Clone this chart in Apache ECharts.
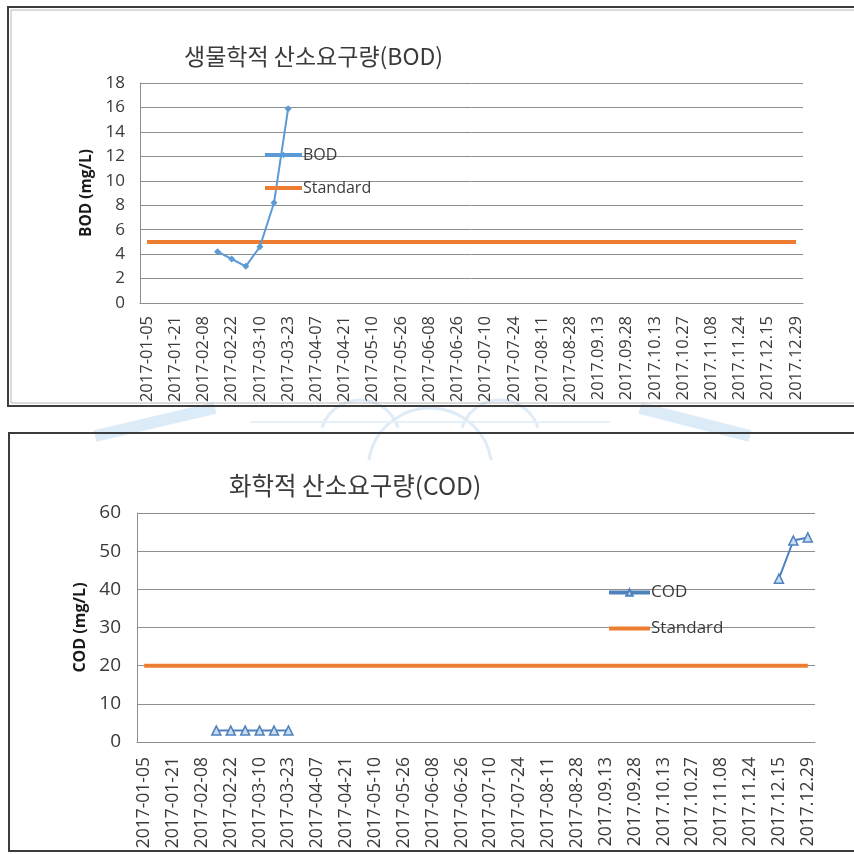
<!DOCTYPE html>
<html>
<head>
<meta charset="utf-8">
<script src="https://cdn.jsdelivr.net/npm/echarts@6/dist/echarts.min.js"></script>
<style>
  html, body { margin: 0; padding: 0; background: #ffffff; }
  #chart { width: 854px; height: 854px; }
</style>
</head>
<body>
<div id="chart"></div>
<script>
// Labelled sampling dates (every second weekly sampling date is labelled on the axis)
const tickLabels = [
  '2017-01-05', '2017-01-21', '2017-02-08', '2017-02-22', '2017-03-10', '2017-03-23',
  '2017-04-07', '2017-04-21', '2017-05-10', '2017-05-26', '2017-06-08', '2017-06-26',
  '2017-07-10', '2017-07-24', '2017-08-11', '2017-08-28', '2017.09.13', '2017.09.28',
  '2017.10.13', '2017.10.27', '2017.11.08', '2017.11.24', '2017.12.15', '2017.12.29'
];

// BOD (mg/L) per sampling date
const bodValues = [
  null, null, null, null, null, 4.2, 3.6, 3.0, 4.6, 8.2, 15.9, null,
  null, null, null, null, null, null, null, null, null, null, null, null,
  null, null, null, null, null, null, null, null, null, null, null, null,
  null, null, null, null, null, null, null, null, null, null, null
];
const bodStandard = [
  5, 5, 5, 5, 5, 5, 5, 5, 5, 5, 5, 5, 5, 5, 5, 5, 5, 5, 5, 5, 5, 5, 5, 5,
  5, 5, 5, 5, 5, 5, 5, 5, 5, 5, 5, 5, 5, 5, 5, 5, 5, 5, 5, 5, 5, 5, 5
];

// COD (mg/L) per sampling date
const codValues = [
  null, null, null, null, null, 3.0, 3.0, 3.0, 3.0, 3.0, 3.0, null,
  null, null, null, null, null, null, null, null, null, null, null, null,
  null, null, null, null, null, null, null, null, null, null, null, null,
  null, null, null, null, null, null, null, null, 42.8, 52.8, 53.6
];
const codStandard = [
  20, 20, 20, 20, 20, 20, 20, 20, 20, 20, 20, 20, 20, 20, 20, 20, 20, 20, 20, 20, 20, 20, 20, 20,
  20, 20, 20, 20, 20, 20, 20, 20, 20, 20, 20, 20, 20, 20, 20, 20, 20, 20, 20, 20, 20, 20, 20
];

// Weekly categories: labelled dates with an unlabelled week in between
const categories = [];
tickLabels.forEach(function (d, i) {
  categories.push(d);
  if (i < tickLabels.length - 1) categories.push('');
});

const LATIN = "'Open Sans', 'DejaVu Sans', sans-serif";
const KOREAN = "'Noto Sans CJK KR', 'Noto Sans', sans-serif";
const GRID_GRAY = '#8e8e8e';
const TEXT = '#3a3a3a';
const BLUE = '#5B9BD5';
const STEEL = '#4F81BD';
const ORANGE = '#ED7D31';

// legend entry for a line drawn without markers
const plainLine = { name: 'Standard', itemStyle: { color: 'rgba(0,0,0,0)', borderWidth: 0, opacity: 0 } };

function xAxisFor(gridIndex, fontSize, margin) {
  return {
    type: 'category', gridIndex: gridIndex, data: categories, boundaryGap: true,
    axisLine: { show: true, lineStyle: { color: GRID_GRAY, width: 1 } },
    axisTick: { show: false },
    axisLabel: {
      interval: 0, rotate: 90, margin: margin, color: TEXT,
      fontFamily: LATIN, fontSize: fontSize
    },
    splitLine: { show: false }
  };
}

function yAxisFor(gridIndex, max, interval, name, nameSize, fontSize, nameGap, margin) {
  return {
    type: 'value', gridIndex: gridIndex, min: 0, max: max, interval: interval,
    name: name, nameLocation: 'middle', nameGap: nameGap,
    nameTextStyle: { fontFamily: LATIN, fontWeight: 'bold', fontSize: nameSize, color: '#1a1a1a' },
    axisLine: { show: true, lineStyle: { color: GRID_GRAY, width: 1 } },
    axisTick: { show: false },
    axisLabel: { color: TEXT, fontFamily: LATIN, fontSize: fontSize, margin: margin },
    splitLine: { show: true, lineStyle: { color: GRID_GRAY, width: 1 } }
  };
}

const chart = echarts.init(document.getElementById('chart'), null, { renderer: 'canvas' });

chart.setOption({
  backgroundColor: '#ffffff',
  animation: false,
  title: [
    {
      text: '생물학적 산소요구량(BOD)', left: 184, top: 45, padding: 0,
      textStyle: { fontFamily: KOREAN, fontWeight: 'normal', fontSize: 23, color: TEXT }
    },
    {
      text: '화학적 산소요구량(COD)', left: 229, top: 473, padding: 0,
      textStyle: { fontFamily: KOREAN, fontWeight: 'normal', fontSize: 24.5, color: TEXT }
    }
  ],
  legend: [
    {
      data: ['BOD', plainLine], orient: 'vertical', left: 263, top: 147, padding: 0,
      itemWidth: 37, itemHeight: 8, itemGap: 17,
      lineStyle: { width: 4 },
      textStyle: { fontFamily: LATIN, fontSize: 16, color: TEXT, padding: [0, 0, 0, -4] }
    },
    {
      data: ['COD', plainLine], orient: 'vertical', left: 607, top: 584, padding: 0,
      itemWidth: 41, itemHeight: 8, itemGap: 19,
      lineStyle: { width: 4 },
      textStyle: { fontFamily: LATIN, fontSize: 17, color: TEXT, padding: [0, 0, 0, -4] }
    }
  ],
  grid: [
    { left: 140, top: 83, width: 663, height: 220 },
    { left: 137, top: 513, width: 678, height: 229 }
  ],
  xAxis: [xAxisFor(0, 16.5, 13), xAxisFor(1, 17.5, 15)],
  yAxis: [
    yAxisFor(0, 18, 2, 'BOD (mg/L)', 15.5, 17, 44, 15),
    yAxisFor(1, 60, 10, 'COD (mg/L)', 16, 19, 46, 16)
  ],
  series: [
    {
      name: 'Standard', type: 'line', xAxisIndex: 0, yAxisIndex: 0, data: bodStandard,
      symbol: 'none', lineStyle: { color: ORANGE, width: 4 }, itemStyle: { color: ORANGE }, z: 2
    },
    {
      name: 'BOD', type: 'line', xAxisIndex: 0, yAxisIndex: 0, data: bodValues,
      connectNulls: false, symbol: 'diamond', symbolSize: 7,
      lineStyle: { color: BLUE, width: 2 }, itemStyle: { color: BLUE }, z: 3
    },
    {
      name: 'Standard', type: 'line', xAxisIndex: 1, yAxisIndex: 1, data: codStandard,
      symbol: 'none', lineStyle: { color: ORANGE, width: 4 }, itemStyle: { color: ORANGE }, z: 2
    },
    {
      name: 'COD', type: 'line', xAxisIndex: 1, yAxisIndex: 1, data: codValues,
      connectNulls: false, symbol: 'triangle', symbolSize: 9,
      lineStyle: { color: STEEL, width: 2 },
      itemStyle: { color: '#c9dcf0', borderColor: STEEL, borderWidth: 1.5 }, z: 3
    }
  ],
  graphic: [
    // faint emblem showing between the two panels
    { type: 'group', silent: true, z: -10, children: [
      { type: 'line', shape: { x1: 95, y1: 436, x2: 215, y2: 408 },
        style: { stroke: '#dcebf8', lineWidth: 12 } },
      { type: 'line', shape: { x1: 640, y1: 408, x2: 750, y2: 436 },
        style: { stroke: '#dcebf8', lineWidth: 12 } },
      { type: 'arc', shape: { cx: 430, cy: 470, r: 62, startAngle: Math.PI * 1.05, endAngle: Math.PI * 1.95 },
        style: { stroke: '#dfecf8', lineWidth: 3, fill: 'none' } },
      { type: 'arc', shape: { cx: 360, cy: 440, r: 40, startAngle: Math.PI * 1.1, endAngle: Math.PI * 1.9 },
        style: { stroke: '#dfecf8', lineWidth: 3, fill: 'none' } },
      { type: 'arc', shape: { cx: 500, cy: 440, r: 40, startAngle: Math.PI * 1.1, endAngle: Math.PI * 1.9 },
        style: { stroke: '#dfecf8', lineWidth: 3, fill: 'none' } },
      { type: 'line', shape: { x1: 250, y1: 422, x2: 610, y2: 422 },
        style: { stroke: '#e6f0f9', lineWidth: 2 } }
    ]},
    // panel frames
    { type: 'rect', silent: true, z: 10,
      shape: { x: 8, y: 7, width: 860, height: 399 },
      style: { fill: 'none', stroke: '#3c3c3c', lineWidth: 2 } },
    { type: 'rect', silent: true, z: 10,
      shape: { x: 11, y: 10, width: 860, height: 393 },
      style: { fill: 'none', stroke: '#b8b8b8', lineWidth: 1 } },
    { type: 'rect', silent: true, z: 10,
      shape: { x: 9, y: 433, width: 860, height: 418 },
      style: { fill: 'none', stroke: '#3c3c3c', lineWidth: 2 } }
  ]
});
</script>
</body>
</html>
